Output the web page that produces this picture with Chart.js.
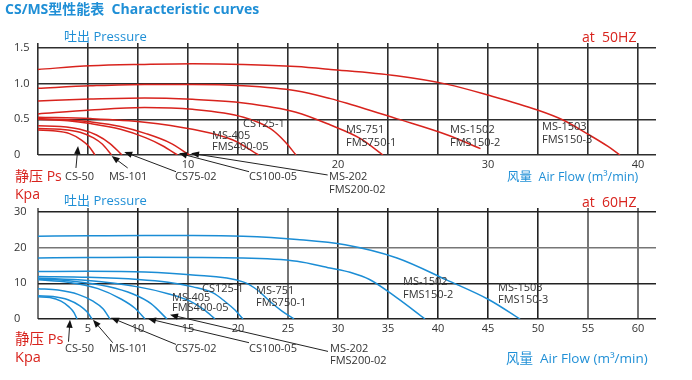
<!DOCTYPE html>
<html><head><meta charset="utf-8">
<script src="https://cdn.jsdelivr.net/npm/chart.js@4.4.1/dist/chart.umd.min.js"></script>
<style>
html,body{margin:0;padding:0;background:#fff;}
#wrap{position:relative;width:692px;height:380px;overflow:hidden;font-family:"Open Sans","Noto Sans CJK SC",sans-serif;}
canvas{position:absolute;left:0;top:0;}
.t{position:absolute;white-space:nowrap;line-height:1;}
.blue{color:#1f8fd6;}
.red{color:#d8231d;}
</style></head><body>
<div id="wrap">
<canvas id="c50" width="692" height="380"></canvas>
<canvas id="c60" width="692" height="380"></canvas>
<div class="t blue" style="left:5px;top:2px;font-size:14px;font-weight:700;">CS/MS型性能表&nbsp; Characteristic curves</div>
<div class="t blue" style="left:64px;top:30px;font-size:13px;">吐出 Pressure</div>
<div class="t red" style="left:582px;top:30px;font-size:14px;">at&nbsp; 50HZ</div>
<div class="t red" style="left:15px;top:169px;font-size:14px;">静压 Ps</div>
<div class="t red" style="left:15px;top:187px;font-size:14px;">Kpa</div>
<div class="t blue" style="left:507px;top:171px;font-size:12.5px;">风量&nbsp; Air Flow (m³/min)</div>
<div class="t blue" style="left:64px;top:194px;font-size:13px;">吐出 Pressure</div>
<div class="t red" style="left:582px;top:195px;font-size:14px;">at&nbsp; 60HZ</div>
<div class="t red" style="left:15px;top:332px;font-size:14.5px;">静压 Ps</div>
<div class="t red" style="left:15px;top:350px;font-size:14.5px;">Kpa</div>
<div class="t blue" style="left:506px;top:352px;font-size:13.5px;">风量&nbsp; Air Flow (m³/min)</div>
</div>
<script>
// ---------- data: [flow m3/min, pressure] ----------
// 50 Hz (pressure kPa)
const FLOW_LABELS_50 = [10, 20, 30, 40];
const PRESSURE_TICKS_50 = [0, 0.5, 1.0, 1.5];
const CS50_50   = [[0,0.35],[1.0,0.34],[2.1,0.30],[2.9,0.21],[3.4,0.12],[3.8,0]];
const MS101_50  = [[0,0.37],[1.5,0.36],[2.8,0.32],[3.7,0.24],[4.3,0.15],[4.9,0]];
const CS75_50   = [[0,0.41],[1.5,0.40],[2.8,0.36],[3.9,0.28],[4.8,0.16],[5.6,0]];
const CS100_50  = [[0,0.50],[2,0.48],[3.5,0.44],[5.5,0.36],[7.2,0.24],[8.3,0.13],[9.3,0]];
const MS202_50  = [[0,0.51],[2,0.495],[3.5,0.465],[5.5,0.40],[7.2,0.30],[8.8,0.17],[10.1,0]];
const MS405_50  = [[0,0.53],[3.5,0.51],[7.1,0.46],[10.3,0.36],[13.0,0.21],[14.7,0]];
const CS125_50  = [[0,0.575],[3.5,0.63],[7.1,0.665],[10.3,0.64],[13.7,0.53],[15.5,0.37],[16.5,0.18],[17.2,0]];
const MS751_50  = [[0,0.757],[3.5,0.785],[7.1,0.80],[10.3,0.78],[13.7,0.73],[17.2,0.60],[19.5,0.42],[21.5,0.23],[23.0,0]];
const MS1502_50 = [[0,0.935],[3.5,0.97],[7.1,0.99],[10.3,0.99],[13.7,0.97],[17.2,0.90],[19.5,0.79],[20.6,0.725],[23.9,0.51],[27.3,0.28],[29.5,0.09]];
const MS1503_50 = [[0,1.20],[3.5,1.25],[7.1,1.27],[10.3,1.28],[13.7,1.27],[17.2,1.24],[19.5,1.20],[23.9,1.11],[27.3,0.99],[30.0,0.84],[33.3,0.63],[35.0,0.49],[36.6,0.30],[38.0,0.12],[38.8,0]];

// 60 Hz (pressure kPa)
const FLOW_LABELS_60 = [5, 10, 15, 20, 25, 30, 35, 40, 45, 50, 55, 60];
const PRESSURE_TICKS_60 = [0, 10, 20, 30];
const CS50_60   = [[0,6.2],[1.2,6.0],[2.3,5.0],[3.1,3.4],[3.6,1.8],[3.9,0]];
const MS101_60  = [[0,6.5],[1.5,6.3],[3,5.4],[4.2,3.7],[4.9,2.0],[5.4,0]];
const CS75_60   = [[0,8.5],[2,8.1],[4,6.9],[5.5,5.0],[6.5,2.9],[7.2,0]];
const CS100_60  = [[0,11.0],[3,10.3],[6,8.5],[8.3,5.6],[9.7,3.0],[10.7,0]];
const MS202_60  = [[0,11.2],[3.5,10.6],[7,9.1],[9.5,7.0],[11.3,4.3],[12.9,0]];
const MS405_60  = [[0,11.5],[5,10.8],[10,9.0],[13,7.1],[15.2,5.0],[16.6,2.6],[17.7,0]];
const CS125_60  = [[0,11.9],[5,11.7],[10,11.1],[13,10.3],[15.5,9.0],[17.5,7.3],[18.7,4.9],[19.7,2.5],[20.5,0]];
const MS751_60  = [[0,13.3],[5,13.4],[10.7,13.2],[15.2,12.4],[20.5,10.4],[21.9,8.2],[23.2,4.9],[24.4,2.2],[25.6,0]];
const MS1502_60 = [[0,17.1],[5,17.2],[10.7,17.3],[20.5,17.1],[25.9,16.2],[29.2,14.3],[31.2,13.1],[33.2,11.0],[35.9,5.9],[38.7,0]];
const MS1503_60 = [[0,23.2],[5,23.3],[10.7,23.4],[15.5,23.4],[20.5,23.2],[25.9,22.3],[30.7,20.8],[35.9,17.1],[40.9,10.9],[45.1,5.4],[48.2,0]];

// ---------- annotation layout (data coordinates) ----------
const NOTES_50 = [
  ['CS125-1',13.67,0.435],['MS-405',11.6,0.266],['FMS400-05',11.6,0.112],
  ['MS-751',20.53,0.35],['FMS750-1',20.53,0.168],
  ['MS-1502',27.47,0.35],['FMS150-2',27.47,0.168],
  ['MS-1503',33.6,0.393],['FMS150-3',33.6,0.21],
  ['CS-50',1.8,-0.308],['MS-101',4.73,-0.308],['CS75-02',9.13,-0.308],
  ['CS100-05',14.07,-0.308],['MS-202',19.4,-0.308],['FMS200-02',19.4,-0.491]
];
const ARROWS_50 = [
  [2.53,-0.182,2.67,0.126],[5.98,-0.182,4.91,-0.014],[9.2,-0.234,5.75,0.042],
  [14.07,-0.234,9.4,0.024],[19.31,-0.28,10.2,0.024]
];
const NOTES_60 = [
  ['CS125-1',16.4,8.41],['MS-405',13.4,5.89],['FMS400-05',13.4,3.08],
  ['MS-751',21.8,7.93],['FMS750-1',21.8,4.49],
  ['MS-1502',36.5,10.54],['FMS150-2',36.5,6.81],
  ['MS-1503',46.0,8.69],['FMS150-3',46.0,5.41],
  ['CS-50',2.7,-8.24],['MS-101',7.1,-8.24],['CS75-02',13.7,-8.24],
  ['CS100-05',21.1,-8.24],['MS-202',29.2,-8.24],['FMS200-02',29.2,-11.77]
];
const ARROWS_60 = [
  [3.05,-6.36,3.2,-0.2],[7.47,-6.64,5.5,-0.2],[13.8,-7.12,7.3,0.36],
  [21.1,-6.64,11.0,0.08],[29.0,-9.08,13.2,1.2]
];

const RED = '#d8231d', BLUE = '#1b8dd5';
const FONT = '"Open Sans","Noto Sans CJK SC",sans-serif';

function ds(points, color) {
  return { data: points.map(([x, y]) => ({ x, y })), borderColor: color, borderWidth: 1.5,
           pointRadius: 0, fill: false, cubicInterpolationMode: 'monotone' };
}

function notesPlugin(notes, arrows) {
  return {
    id: 'notes',
    afterDatasetsDraw(chart) {
      const { ctx } = chart, x = chart.scales.x, y = chart.scales.y;
      ctx.save();
      ctx.font = '11px ' + FONT;
      ctx.fillStyle = '#333'; ctx.textAlign = 'left'; ctx.textBaseline = 'middle';
      notes.forEach(([t, vx, vy]) => ctx.fillText(t, x.getPixelForValue(vx), y.getPixelForValue(vy)));
      ctx.strokeStyle = '#222'; ctx.fillStyle = '#111'; ctx.lineWidth = 1;
      arrows.forEach(([x1, y1, x2, y2]) => {
        const a = x.getPixelForValue(x1), b = y.getPixelForValue(y1);
        const c = x.getPixelForValue(x2), d = y.getPixelForValue(y2);
        const ang = Math.atan2(d - b, c - a), L = 8, W = 3.2;
        const cs = Math.cos(ang), sn = Math.sin(ang);
        ctx.beginPath(); ctx.moveTo(a, b); ctx.lineTo(c - L * cs * 0.6, d - L * sn * 0.6); ctx.stroke();
        ctx.beginPath(); ctx.moveTo(c, d);
        ctx.lineTo(c - L * cs + W * sn, d - L * sn - W * cs);
        ctx.lineTo(c - L * cs - W * sn, d - L * sn + W * cs);
        ctx.closePath(); ctx.fill();
      });
      ctx.restore();
    }
  };
}

function makeChart(id, datasets, cfg) {
  const near = (v, list) => list.find(t => Math.abs(v - t) < 1e-6);
  return new Chart(document.getElementById(id), {
    type: 'line',
    data: { datasets },
    options: {
      responsive: false, animation: false, events: [],
      layout: { padding: { left: 14, right: 36, top: cfg.top, bottom: 0 } },
      plugins: { legend: { display: false }, tooltip: { enabled: false } },
      scales: {
        x: {
          type: 'linear', min: 0, max: cfg.xMax,
          border: { display: false },
          grid: { drawTicks: false, color: c => cfg.xGridColor(c.tick.value), lineWidth: c => cfg.xGridWidth(c.tick.value) },
          ticks: { padding: 3, color: '#333', font: { size: 11, family: FONT }, autoSkip: false, maxRotation: 0,
                   callback: v => { const t = near(v, cfg.xLabels); return t === undefined ? '' : String(t); } },
          afterBuildTicks: s => { const a = []; for (let i = 0; i <= 12; i++) a.push({ value: i * cfg.xStep }); s.ticks = a; },
          afterFit: s => { s.height = cfg.xHeight; }
        },
        y: {
          type: 'linear', min: 0, max: cfg.yMax,
          border: { display: false },
          grid: { drawTicks: false, color: c => cfg.yGridColor(c.tick.value), lineWidth: 1.6 },
          ticks: { crossAlign: 'far', padding: 0, color: '#333', font: { size: 11, family: FONT },
                   callback: v => v === 0 ? '0' : cfg.yFmt(v) },
          afterBuildTicks: s => { s.ticks = cfg.yTicks.map(v => ({ value: v })); },
          afterFit: s => { s.width = 24; }
        }
      }
    },
    plugins: [notesPlugin(cfg.notes, cfg.arrows)]
  });
}

const curves50 = [CS50_50, MS101_50, CS75_50, CS100_50, MS202_50, MS405_50, CS125_50, MS751_50, MS1502_50, MS1503_50];
const curves60 = [CS50_60, MS101_60, CS75_60, CS100_60, MS202_60, MS405_60, CS125_60, MS751_60, MS1502_60, MS1503_60];

makeChart('c50', curves50.map(c => ds(c, RED)), {
  top: 43, xHeight: 225, xMax: 41.2, xStep: 10 / 3, xLabels: FLOW_LABELS_50,
  yMax: 1.57, yTicks: PRESSURE_TICKS_50, yFmt: v => v.toFixed(1),
  xGridColor: () => '#2e2e2e', xGridWidth: () => 1.6, yGridColor: () => '#2e2e2e',
  notes: NOTES_50, arrows: ARROWS_50
});

const GRAY_X_60 = [0, 5, 15, 25, 55, 60];
makeChart('c60', curves60.map(c => ds(c, BLUE)), {
  top: 208, xHeight: 61, xMax: 61.8, xStep: 5, xLabels: FLOW_LABELS_60,
  yMax: 31.1, yTicks: PRESSURE_TICKS_60, yFmt: v => String(v),
  xGridColor: v => GRAY_X_60.includes(Math.round(v)) ? '#767676' : '#222',
  xGridWidth: v => GRAY_X_60.includes(Math.round(v)) ? 2 : 1.6,
  yGridColor: v => v === 20 ? '#767676' : '#222',
  notes: NOTES_60, arrows: ARROWS_60
});
</script>
</body></html>
